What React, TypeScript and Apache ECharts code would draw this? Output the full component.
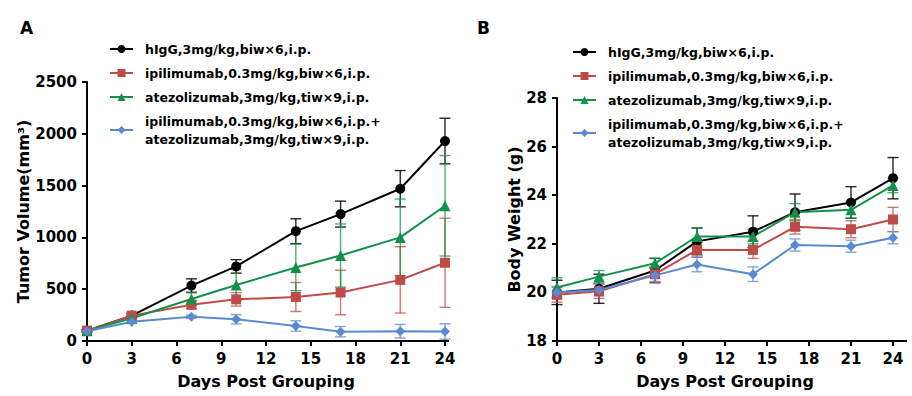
import React, { useEffect, useRef } from "react";
import * as echarts from "echarts";

const days = [0, 3, 7, 10, 14, 17, 21, 24];
const seriesNames = [
  "hIgG,3mg/kg,biw×6,i.p.",
  "ipilimumab,0.3mg/kg,biw×6,i.p.",
  "atezolizumab,3mg/kg,tiw×9,i.p.",
  "ipilimumab,0.3mg/kg,biw×6,i.p.+\natezolizumab,3mg/kg,tiw×9,i.p.",
];
const colors = ["#000000", "#BF4B48", "#13914A", "#5A8AD2"];
const symbols = ["circle", "rect", "triangle", "diamond"];
const symbolSizes = [10, 10, 11, 10];

const tumorHigg = [100, 245, 535, 720, 1060, 1225, 1470, 1930];
const tumorHiggErr = [10, 20, 65, 65, 120, 125, 175, 220];
const tumorIpi = [100, 245, 350, 402, 425, 468, 590, 755];
const tumorIpiErr = [10, 20, 40, 65, 140, 215, 320, 430];
const tumorAtezo = [100, 220, 405, 540, 710, 825, 1000, 1305];
const tumorAtezoErr = [10, 20, 60, 150, 225, 305, 370, 485];
const tumorCombo = [95, 185, 235, 210, 145, 90, 95, 92];
const tumorComboErr = [10, 15, 15, 45, 50, 50, 65, 75];

const weightHigg = [20.0, 20.15, 20.9, 22.1, 22.5, 23.3, 23.7, 24.7];
const weightHiggErr = [0.5, 0.6, 0.5, 0.55, 0.65, 0.75, 0.65, 0.85];
const weightIpi = [19.9, 20.05, 20.75, 21.75, 21.75, 22.7, 22.6, 23.0];
const weightIpiErr = [0.3, 0.3, 0.3, 0.3, 0.35, 0.3, 0.35, 0.5];
const weightAtezo = [20.2, 20.65, 21.2, 22.3, 22.3, 23.3, 23.4, 24.4];
const weightAtezoErr = [0.4, 0.25, 0.2, 0.35, 0.3, 0.35, 0.35, 0.3];
const weightCombo = [20.0, 20.1, 20.7, 21.15, 20.75, 21.95, 21.9, 22.25];
const weightComboErr = [0.25, 0.25, 0.3, 0.3, 0.3, 0.25, 0.25, 0.25];

const tumorSets = [
  [tumorHigg, tumorHiggErr],
  [tumorIpi, tumorIpiErr],
  [tumorAtezo, tumorAtezoErr],
  [tumorCombo, tumorComboErr],
];
const weightSets = [
  [weightHigg, weightHiggErr],
  [weightIpi, weightIpiErr],
  [weightAtezo, weightAtezoErr],
  [weightCombo, weightComboErr],
];

const FONT = "DejaVu Sans";

function errorSeries(idx: number, vals: number[], errs: number[], axis: number) {
  const color = colors[idx];
  return {
    type: "custom",
    xAxisIndex: axis,
    yAxisIndex: axis,
    silent: true,
    z: 1,
    data: days.map((d, i) => [d, vals[i], errs[i]]),
    encode: { x: 0, y: 1 },
    renderItem: (params: any, api: any) => {
      const x = api.value(0);
      const y = api.value(1);
      const e = api.value(2);
      const top = api.coord([x, y + e]);
      const bot = api.coord([x, y - e]);
      const hw = 5.5;
      const style = { stroke: color, lineWidth: 1.4, opacity: idx === 0 ? 0.85 : 0.75 };
      return {
        type: "group",
        children: [
          { type: "line", shape: { x1: top[0], y1: top[1], x2: bot[0], y2: bot[1] }, style },
          { type: "line", shape: { x1: top[0] - hw, y1: top[1], x2: top[0] + hw, y2: top[1] }, style },
          { type: "line", shape: { x1: bot[0] - hw, y1: bot[1], x2: bot[0] + hw, y2: bot[1] }, style },
        ],
      };
    },
  };
}

function lineSeries(idx: number, vals: number[], axis: number) {
  return {
    type: "line",
    name: seriesNames[idx],
    xAxisIndex: axis,
    yAxisIndex: axis,
    z: 3,
    data: days.map((d, i) => [d, vals[i]]),
    symbol: symbols[idx],
    symbolSize: symbolSizes[idx],
    showAllSymbol: true,
    lineStyle: { color: colors[idx], width: 2 },
    itemStyle: { color: colors[idx] },
  };
}

const labelStyle = {
  fontFamily: FONT,
  fontWeight: "bold",
  fontSize: 15,
  color: "#000",
  margin: 10,
  formatter: (v: number) => String(v),
};

function xAxisDef(grid: number) {
  return {
    type: "value",
    gridIndex: grid,
    min: 0,
    max: 24,
    interval: 3,
    name: "Days Post Grouping",
    nameLocation: "middle",
    nameGap: 32,
    nameTextStyle: { fontFamily: FONT, fontWeight: "bold", fontSize: 16, color: "#000" },
    axisLine: { show: true, lineStyle: { color: "#000", width: 2 } },
    axisTick: { show: true, length: 5, lineStyle: { color: "#000", width: 2 } },
    axisLabel: labelStyle,
    splitLine: { show: false },
  };
}

function legendDef(left: number, top: number) {
  return {
    left,
    top,
    orient: "vertical",
    data: seriesNames,
    itemWidth: 23,
    itemHeight: 10,
    itemGap: 6,
    selectedMode: false,
    textStyle: {
      fontFamily: FONT,
      fontWeight: "bold",
      fontSize: 12.5,
      color: "#000",
      lineHeight: 18,
      padding: [0, 0, 0, 7],
    },
  };
}

export default function App() {
  const ref = useRef<HTMLDivElement>(null);
  useEffect(() => {
    document.body.style.margin = "0";
    if (!ref.current) return;
    const chart = echarts.init(ref.current, undefined, { renderer: "svg" });
    const series: any[] = [];
    tumorSets.forEach((s, i) => series.push(errorSeries(i, s[0], s[1], 0)));
    tumorSets.forEach((s, i) => series.push(lineSeries(i, s[0], 0)));
    weightSets.forEach((s, i) => series.push(errorSeries(i, s[0], s[1], 1)));
    weightSets.forEach((s, i) => series.push(lineSeries(i, s[0], 1)));
    chart.setOption({
      animation: false,
      backgroundColor: "#fff",
      grid: [
        { left: 87, right: 467, top: 82, bottom: 55 },
        { left: 557, right: 19, top: 98, bottom: 55 },
      ],
      xAxis: [xAxisDef(0), xAxisDef(1)],
      yAxis: [
        {
          type: "value",
          gridIndex: 0,
          min: 0,
          max: 2500,
          interval: 500,
          name: "Tumor Volume(mm³)",
          nameLocation: "middle",
          nameGap: 55,
          nameTextStyle: { fontFamily: FONT, fontWeight: "bold", fontSize: 16, color: "#000" },
          axisLine: { show: true, lineStyle: { color: "#000", width: 2 } },
          axisTick: { show: true, length: 5, lineStyle: { color: "#000", width: 2 } },
          axisLabel: labelStyle,
          splitLine: { show: false },
        },
        {
          type: "value",
          gridIndex: 1,
          min: 18,
          max: 28,
          interval: 2,
          name: "Body Weight (g)",
          nameLocation: "middle",
          nameGap: 33,
          nameTextStyle: { fontFamily: FONT, fontWeight: "bold", fontSize: 16, color: "#000" },
          axisLine: { show: true, lineStyle: { color: "#000", width: 2 } },
          axisTick: { show: true, length: 5, lineStyle: { color: "#000", width: 2 } },
          axisLabel: labelStyle,
          splitLine: { show: false },
        },
      ],
      legend: [legendDef(104, 35), legendDef(567, 38)],
      graphic: [
        { type: "text", left: 20, top: 19, style: { text: "A", font: `bold 17px "${FONT}"`, fill: "#000" } },
        { type: "text", left: 477, top: 19, style: { text: "B", font: `bold 17px "${FONT}"`, fill: "#000" } },
      ],
      series,
    });
    // extend x axis lines slightly past the last tick, as in the reference
    const endA = chart.convertToPixel({ xAxisIndex: 0, yAxisIndex: 0 } as any, [24, 0]) as number[];
    const endB = chart.convertToPixel({ xAxisIndex: 1, yAxisIndex: 1 } as any, [24, 18]) as number[];
    chart.setOption({
      graphic: [
        { type: "text", left: 20, top: 19, style: { text: "A", font: `bold 17px "${FONT}"`, fill: "#000" } },
        { type: "text", left: 477, top: 19, style: { text: "B", font: `bold 17px "${FONT}"`, fill: "#000" } },
        {
          type: "line",
          shape: { x1: endA[0], y1: endA[1], x2: endA[0] + 4, y2: endA[1] },
          style: { stroke: "#000", lineWidth: 2 },
        },
        {
          type: "line",
          shape: { x1: endB[0], y1: endB[1], x2: endB[0] + 14, y2: endB[1] },
          style: { stroke: "#000", lineWidth: 2 },
        },
      ],
    });
    return () => chart.dispose();
  }, []);
  return <div ref={ref} style={{ position: "fixed", left: 0, top: 0, width: 912, height: 396 }} />;
}
